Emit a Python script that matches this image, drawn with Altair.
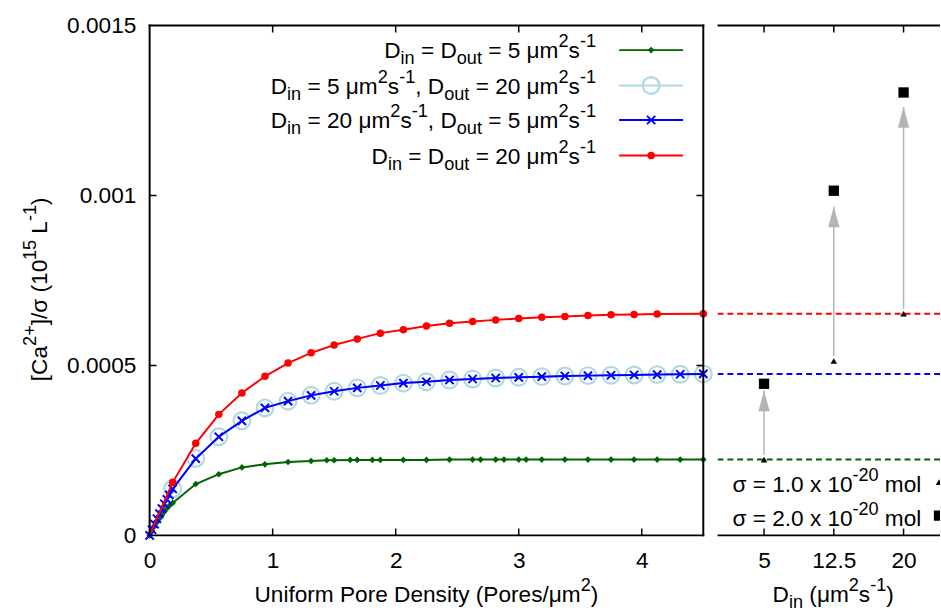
import altair as alt
import pandas as pd

FONT = "Liberation Sans, DejaVu Sans, sans-serif"
FS = 23

# ---------------- data ----------------
fine_x = [0.0, 0.02, 0.04, 0.06, 0.08, 0.10, 0.12, 0.14, 0.16]
grid_x = [0.1875, 0.375, 0.5625, 0.75, 0.9375, 1.125, 1.3125, 1.5, 1.6875, 1.875,
          2.0625, 2.25, 2.4375, 2.625, 2.8125, 3.0, 3.1875, 3.375, 3.5625, 3.75,
          3.9375, 4.125, 4.3125, 4.5]

green_x = fine_x + [0.1875, 0.375, 0.5625, 0.75, 0.9375, 1.125, 1.3125, 1.44, 1.5, 1.63,
                    1.6875, 1.81, 1.875, 2.0625, 2.25, 2.4375, 2.625, 2.69, 2.8125, 2.88,
                    3.0, 3.06, 3.1875, 3.375, 3.5625, 3.75, 3.9375, 4.125, 4.3125, 4.5]
green_y = [0.0, 0.000014, 0.000027, 0.000039, 0.000050, 0.000060, 0.000070, 0.000079, 0.000087,
           0.0000956, 0.000151, 0.000180, 0.000200, 0.000209, 0.000216, 0.000219, 0.000221,
           0.000221, 0.000222, 0.000222, 0.000222, 0.000222, 0.000222, 0.000222, 0.000223,
           0.000223, 0.000223, 0.000223, 0.000223, 0.000223, 0.000223, 0.000223, 0.000223,
           0.000223, 0.000223, 0.000223, 0.000223, 0.000223, 0.000223]

lblue_x = [0.0] + grid_x
lblue_y = [0.0, 0.000137, 0.000226, 0.000290, 0.000337, 0.000375, 0.000395, 0.000412,
           0.000424, 0.000434, 0.000441, 0.000448, 0.000452, 0.000457, 0.000460, 0.000463,
           0.000465, 0.000467, 0.000469, 0.000470, 0.000471, 0.000472, 0.000473, 0.000474,
           0.000475]

blue_x = fine_x + grid_x
blue_y = [0.0, 0.0000165, 0.000033, 0.000049, 0.000064, 0.000079, 0.000093, 0.000106, 0.000119,
          0.000137, 0.000226, 0.000290, 0.000337, 0.000375, 0.000395, 0.000412, 0.000424,
          0.000434, 0.000441, 0.000448, 0.000452, 0.000457, 0.000460, 0.000463, 0.000465,
          0.000467, 0.000469, 0.000470, 0.000471, 0.000472, 0.000473, 0.000474, 0.000475]

red_x = [0.0, 0.1875, 0.375, 0.5625, 0.75, 0.9375, 1.125, 1.3125, 1.5, 1.6875, 1.875,
         2.0625, 2.25, 2.4375, 2.625, 2.8125, 3.0, 3.1875, 3.375, 3.5625, 3.75,
         3.9375, 4.125, 4.5]
red_y = [0.0, 0.000156, 0.000271, 0.000356, 0.000419, 0.000468, 0.000507, 0.000537,
         0.000560, 0.000578, 0.000595, 0.000605, 0.000616, 0.000624, 0.000629, 0.000634,
         0.000638, 0.000642, 0.000644, 0.000647, 0.000649, 0.000650, 0.000651, 0.000652]

# right panel
din = [5, 12.5, 20]
tri_y = [0.000223, 0.000513, 0.000652]      # sigma = 1.0e-20 mol
sq_y = [0.000446, 0.001014, 0.001303]       # sigma = 2.0e-20 mol
arrow_tip = [0.000426, 0.000967, 0.00126]
plateau_y = [0.000223, 0.000475, 0.000652]
plateau_c = ["#006400", "#0000ff", "#ff0000"]

x_ticks_left = [0, 1, 2, 3, 4]
y_ticks = [0, 0.0005, 0.001, 0.0015]
x_ticks_right = [5, 12.5, 20]

# texts (gnuplot-style markup: ^ superscript, _ subscript)
legend_labels = [
    "D_{in} = D_{out} = 5 μm^2s^{-1}",
    "D_{in} = 5 μm^2s^{-1}, D_{out} = 20 μm^2s^{-1}",
    "D_{in} = 20 μm^2s^{-1}, D_{out} = 5 μm^2s^{-1}",
    "D_{in} = D_{out} = 20 μm^2s^{-1}",
]
sigma_labels = ["σ = 1.0 x 10^{-20} mol", "σ = 2.0 x 10^{-20} mol"]
x_title_left = "Uniform Pore Density (Pores/μm^2)"
x_title_right = "D_{in} (μm^2s^{-1})"
y_title = "[Ca^{2+}]/σ (10^{15} L^{-1})"

# ---------------- styling ----------------
W1, W2, H = 562.5, 226, 518
XMAX_R = 23.92
GREEN, LBLUE, BLUE, RED = "#006400", "#add8e6", "#0000ff", "#ff0000"
GRAY = "#b4b4b4"
CROSS = "M-1,-1L1,1M-1,1L1,-1"
ARROWHEAD = "M0,-1L0.55,1L-0.55,1Z"
SUP, SUB, SMALL = 0.48 * FS, 0.27 * FS, 0.8

# Arial / Liberation Sans advance widths (1/1000 em)
AW = {" ": 278, "(": 333, ")": 333, "+": 584, ",": 278, "-": 333, ".": 278, "/": 278,
      "=": 584, "[": 278, "]": 278, "C": 722, "D": 722, "L": 556, "P": 667, "U": 722,
      "a": 556, "e": 556, "f": 278, "i": 222, "l": 222, "m": 833, "n": 556, "o": 556,
      "r": 333, "s": 500, "t": 278, "u": 556, "x": 500, "y": 500, "μ": 576, "σ": 600}
for _d in "0123456789":
    AW[_d] = 556

ONE = pd.DataFrame({"a": [0]})


def parse(s):
    segs, buf, i = [], "", 0
    while i < len(s):
        c = s[i]
        if c in "^_":
            if buf:
                segs.append((buf, "n"))
                buf = ""
            kind = "sup" if c == "^" else "sub"
            if s[i + 1] == "{":
                j = s.index("}", i)
                segs.append((s[i + 2:j], kind))
                i = j + 1
            else:
                segs.append((s[i + 1], kind))
                i += 2
        else:
            buf += c
            i += 1
    if buf:
        segs.append((buf, "n"))
    return segs


def tw(text, size):
    return sum(AW.get(ch, 556) for ch in text) / 1000.0 * size


def rich(s, x, y, anchor="left", rotate=False):
    """Lay out a gnuplot-like enhanced string as a row of text marks."""
    segs = parse(s)
    sizes = [FS if k == "n" else FS * SMALL for _, k in segs]
    total = sum(tw(t, sz) for (t, _), sz in zip(segs, sizes))
    start = {"left": 0, "right": -total, "center": -total / 2}[anchor]
    out, off = [], start
    for (t, k), sz in zip(segs, sizes):
        shift = {"n": 0, "sup": SUP, "sub": -SUB}[k]
        lead = len(t) - len(t.lstrip(" "))
        stripped = t.strip(" ")
        pos = off + tw(" " * lead, sz)
        if stripped:
            if rotate:
                px, py, ang = x - shift, y - pos, 270
            else:
                px, py, ang = x + pos, y - shift, 0
            out.append(alt.Chart(ONE).mark_text(text=stripped, align="left", baseline="alphabetic",
                                                fontSize=sz, font=FONT, color="black", angle=ang)
                       .encode(x=alt.value(px), y=alt.value(py)))
        off += tw(t, sz)
    return out


xs1 = alt.Scale(domain=[0, 4.5], nice=False, zero=False)
xs2 = alt.Scale(domain=[0, XMAX_R], nice=False, zero=False)
ys = alt.Scale(domain=[0, 0.0015], nice=False, zero=False)

common_axis = dict(ticks=False, domain=False, grid=False, labelFontSize=FS, labelFont=FONT,
                   labelColor="black", title=None, labelExpr="'' + datum.value")
ax_x1 = alt.Axis(values=x_ticks_left, labelFlush=False, labelPadding=15, **common_axis)
ax_y1 = alt.Axis(values=y_ticks, labelPadding=14, **common_axis)
ax_x2 = alt.Axis(values=x_ticks_right, labelFlush=False, labelPadding=15, **common_axis)


def X1(f="x"):
    return alt.X(f"{f}:Q", scale=xs1, axis=ax_x1)


def Y1(f="y"):
    return alt.Y(f"{f}:Q", scale=ys, axis=ax_y1)


def X2(f="x"):
    return alt.X(f"{f}:Q", scale=xs2, axis=ax_x2)


def Y2(f="y"):
    return alt.Y(f"{f}:Q", scale=ys, axis=None)


def series(xv, yv):
    return pd.DataFrame({"x": xv, "y": yv})


g_df, lb_df, b_df, r_df = (series(green_x, green_y), series(lblue_x, lblue_y),
                           series(blue_x, blue_y), series(red_x, red_y))

MK_G = dict(shape="diamond", filled=True, size=45)
MK_LB = dict(shape="circle", filled=False, size=290, strokeWidth=2.2)
MK_B = dict(shape=CROSS, filled=False, size=70, strokeWidth=2)
MK_R = dict(shape="circle", filled=True, size=58)

layers = []
frame_h = pd.DataFrame({"y": [0, 0.0015]})
frame_v = pd.DataFrame({"x": [0, 4.5]})
# curves (no marker at the origin for the light-blue and red series)
for df, col, mk, keep0 in [(g_df, GREEN, MK_G, True), (lb_df, LBLUE, MK_LB, False),
                           (b_df, BLUE, MK_B, True), (r_df, RED, MK_R, False)]:
    layers.append(alt.Chart(df).mark_line(color=col, strokeWidth=2).encode(x=X1(), y=Y1()))
    pts = alt.Chart(df)
    if not keep0:
        pts = pts.transform_filter("datum.x > 0")
    layers.append(pts.mark_point(color=col, opacity=1, **mk).encode(x=X1(), y=Y1()))

# frame and inward ticks (left panel)
layers.append(alt.Chart(frame_h).mark_rule(color="black", strokeWidth=2, strokeCap="square").encode(y=Y1()))
layers.append(alt.Chart(frame_v).mark_rule(color="black", strokeWidth=2, strokeCap="square").encode(x=X1()))
xt_df = pd.DataFrame([(v, yy) for v in x_ticks_left[1:] for yy in [0, 0.0015]], columns=["x", "y"])
yt_df = pd.DataFrame([(xx, v) for v in y_ticks[1:-1] for xx in [0, 4.5]], columns=["x", "y"])
layers.append(alt.Chart(xt_df).mark_tick(orient="vertical", size=14, thickness=1.5, color="black", clip=True, opacity=1).encode(x=X1(), y=Y1()))
layers.append(alt.Chart(yt_df).mark_tick(orient="horizontal", size=14, thickness=1.5, color="black", clip=True, opacity=1).encode(x=X1(), y=Y1()))

# legend (left panel)
leg_rows_y = [25, 61, 96, 132]
for lab, ly, col, mk in zip(legend_labels, leg_rows_y, [GREEN, LBLUE, BLUE, RED], [MK_G, MK_LB, MK_B, MK_R]):
    layers += rich(lab, 453.5, ly + 0.358 * FS, anchor="right")
    layers.append(alt.Chart(ONE).mark_rule(color=col, strokeWidth=2)
                  .encode(x=alt.value(477), x2=alt.value(542), y=alt.value(ly)))
    layers.append(alt.Chart(ONE).mark_point(color=col, opacity=1, **mk)
                  .encode(x=alt.value(509.5), y=alt.value(ly)))

# axis titles (left panel)
layers += rich(x_title_left, W1 / 2, 586, anchor="center")
layers += rich(y_title, -104.3, 268, anchor="center", rotate=True)

left = alt.layer(*layers).properties(width=W1, height=H)

# ---------------- right panel ----------------
pl_df = pd.DataFrame({"y": plateau_y, "c": plateau_c})
pts_df = pd.DataFrame({"x": din, "tri": tri_y, "sq": sq_y, "tip": arrow_tip})
rl = []
rl.append(alt.Chart(pl_df).mark_rule(strokeWidth=2, strokeDash=[6, 4], clip=True)
          .encode(y=Y2(), color=alt.Color("c:N", scale=None)))
rl.append(alt.Chart(pts_df).mark_rule(color=GRAY, strokeWidth=1.5, yOffset=-5)
          .encode(x=X2(), y=Y2("tri"), y2="tip:Q"))
rl.append(alt.Chart(pts_df).mark_point(shape=ARROWHEAD, filled=True, size=441, color=GRAY, opacity=1, yOffset=10.5)
          .encode(x=X2(), y=Y2("tip")))
rl.append(alt.Chart(pts_df).mark_point(shape="triangle-up", filled=True, size=45, color="black", opacity=1)
          .encode(x=X2(), y=Y2("tri")))
rl.append(alt.Chart(pts_df).mark_point(shape="square", filled=True, size=110, color="black", opacity=1)
          .encode(x=X2(), y=Y2("sq")))
rl.append(alt.Chart(frame_h).mark_rule(color="black", strokeWidth=2).encode(y=Y2()))
xt2_df = pd.DataFrame([(v, yy) for v in x_ticks_right for yy in [0, 0.0015]], columns=["x", "y"])
rl.append(alt.Chart(xt2_df).mark_tick(orient="vertical", size=14, thickness=1.5, color="black", clip=True, opacity=1)
          .encode(x=X2(), y=Y2()))
sig_rows_y = [466, 500]
for lab, ly, mk in zip(sigma_labels, sig_rows_y, [dict(shape="triangle-up", size=45), dict(shape="square", size=110)]):
    rl += rich(lab, 207, ly + 0.358 * FS, anchor="right")
    rl.append(alt.Chart(ONE).mark_point(filled=True, color="black", opacity=1, clip=True, **mk)
              .encode(x=alt.value(225), y=alt.value(ly - 2)))
rl += rich(x_title_right, 117.5, 586, anchor="center")

right = alt.layer(*rl).properties(width=W2, height=H)

chart = (alt.hconcat(left, right, spacing=0)
         .resolve_scale(x="independent", y="independent")
         .properties(padding={"left": 21, "top": 10, "right": 0, "bottom": 0})
         .configure(font=FONT)
         .configure_view(stroke=None))

chart.save("out.html", embed_options={"renderer": "svg", "actions": False})
